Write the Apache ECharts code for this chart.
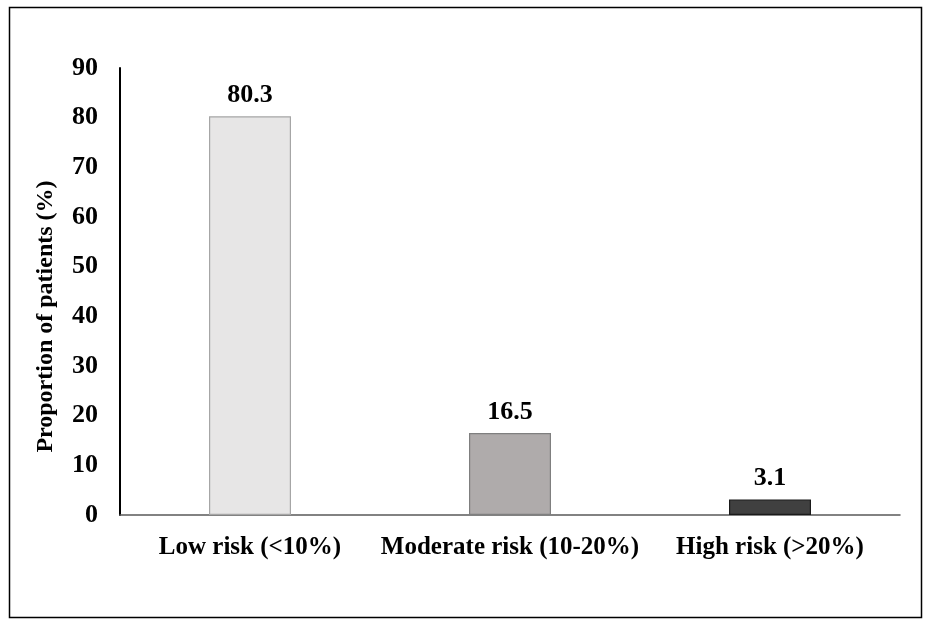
<!DOCTYPE html>
<html>
<head>
<meta charset="utf-8">
<script src="https://cdn.jsdelivr.net/npm/echarts@6/dist/echarts.min.js"></script>
<style>
html,body{margin:0;padding:0;background:#fff;}
#chart{width:932px;height:624px;}
</style>
</head>
<body>
<div id="chart"></div>
<script>
const categories = ['Low risk (<10%)', 'Moderate risk (10-20%)', 'High risk (>20%)'];
const values = [80.3, 16.5, 3.1];
const valueLabels = ['80.3', '16.5', '3.1'];
const barColors = ['#e7e6e6', '#afabab', '#404040'];
const barBorders = ['#a6a6a6', '#7f7f7f', '#1a1a1a'];
const yAxisName = 'Proportion of patients (%)';

const FONT = '"Liberation Serif", "Times New Roman", serif';

const chart = echarts.init(document.getElementById('chart'), null, {renderer: 'canvas'});
chart.setOption({
  backgroundColor: '#ffffff',
  animation: false,
  graphic: [{
    type: 'rect',
    shape: {x: 9.5, y: 7.5, width: 912, height: 610},
    style: {fill: 'none', stroke: '#000', lineWidth: 1.5},
    silent: true
  }],
  grid: {left: 120, top: 68, right: 32, bottom: 109, containLabel: false},
  xAxis: {
    type: 'category',
    data: categories,
    axisLine: {show: true, lineStyle: {color: '#595959', width: 1.5}},
    axisTick: {show: false},
    axisLabel: {
      color: '#000', fontFamily: FONT, fontWeight: 'bold', fontSize: 25,
      margin: 20, interval: 0
    },
    splitLine: {show: false}
  },
  yAxis: {
    type: 'value',
    min: 0, max: 90, interval: 10,
    name: yAxisName,
    nameLocation: 'middle',
    nameGap: 62,
    nameRotate: 90,
    nameTextStyle: {color: '#000', fontFamily: FONT, fontWeight: 'bold', fontSize: 24, padding: [0, 50, 0, 0]},
    axisLine: {show: true, lineStyle: {color: '#000', width: 2}},
    axisTick: {show: false},
    axisLabel: {color: '#000', fontFamily: FONT, fontWeight: 'bold', fontSize: 26, margin: 22},
    splitLine: {show: false}
  },
  series: [{
    type: 'bar',
    barWidth: 82,
    data: values.map((v, i) => ({
      value: v,
      itemStyle: {color: barColors[i], borderColor: barBorders[i], borderWidth: 1.2},
      label: {formatter: valueLabels[i]}
    })),
    label: {
      show: true, position: 'top', distance: 8,
      color: '#000', fontFamily: FONT, fontWeight: 'bold', fontSize: 26
    }
  }]
});
</script>
</body>
</html>
